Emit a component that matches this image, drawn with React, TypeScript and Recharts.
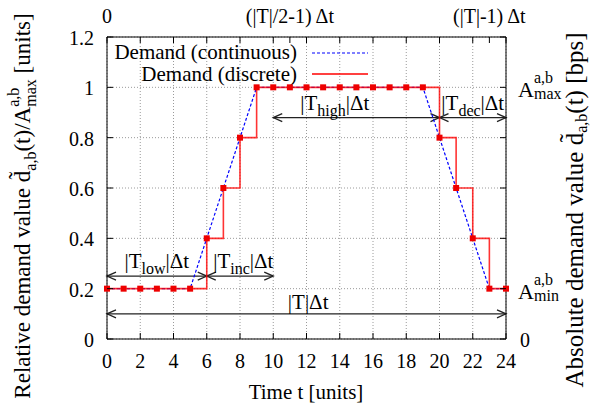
import React from "react";
import {
  CartesianGrid,
  ComposedChart,
  Customized,
  Line,
  ReferenceLine,
  XAxis,
  YAxis,
} from "recharts";

const FONT = "'Liberation Serif', 'Times New Roman', Times, serif";

const timeSlots = [0, 1, 2, 3, 4, 5, 6, 7, 8, 9, 10, 11, 12, 13, 14, 15, 16, 17, 18, 19, 20, 21, 22, 23, 24];
const continuousDemand = [0.2, 0.2, 0.2, 0.2, 0.2, 0.2, 0.4, 0.6, 0.8, 1, 1, 1, 1, 1, 1, 1, 1, 1, 1, 1, 0.8, 0.6, 0.4, 0.2, 0.2];
const discreteDemand = [0.2, 0.2, 0.2, 0.2, 0.2, 0.2, 0.4, 0.6, 0.8, 1, 1, 1, 1, 1, 1, 1, 1, 1, 1, 1, 0.8, 0.6, 0.4, 0.2, 0.2];

const timeTicks = [0, 2, 4, 6, 8, 10, 12, 14, 16, 18, 20, 22, 24];
const relativeTicks = [0, 0.2, 0.4, 0.6, 0.8, 1, 1.2];
const phaseTicks = [0, 2, 4, 6, 8, 10, 11, 12, 14, 16, 18, 20, 22, 23, 24];
const phaseLabels: Record<number, string> = {
  0: "0",
  11: "(|T|/2-1)\u2009\u0394t",
  23: "(|T|-1)\u2009\u0394t",
};
// right axis: 0, A_min, A_max
const absoluteLabels: Record<string, string> = { "0": "0", "0.2": "min", "1": "max" };

// the |T_x|Δt spans drawn as double arrows
const spans = [
  { name: "low", from: 0, to: 6, level: 0.25, labelAt: 3 },
  { name: "inc", from: 6, to: 10, level: 0.25, labelAt: 8.2 },
  { name: "", from: 0, to: 24, level: 0.1, labelAt: 12.1 },
  { name: "high", from: 10, to: 20, level: 0.88, labelAt: 13.7 },
  { name: "dec", from: 20, to: 24, level: 0.88, labelAt: 22 },
];

const data = timeSlots.map((t, i) => ({
  t,
  continuous: continuousDemand[i],
  discrete: discreteDemand[i],
}));

const BottomTick = (p: any) => (
  <g>
    <line x1={p.x} x2={p.x} y1={p.y} y2={p.y - 6} stroke="#000" />
    <text x={p.x} y={p.y + 29} textAnchor="middle" fontFamily={FONT} fontSize={20} fill="#000">
      {p.payload.value}
    </text>
  </g>
);

const TopTick = (p: any) => {
  const label = phaseLabels[p.payload.value];
  return (
    <g>
      <line x1={p.x} x2={p.x} y1={p.y} y2={p.y + 6} stroke="#000" />
      {label && (
        <text x={p.x} y={p.y - 14} textAnchor="middle" fontFamily={FONT} fontSize={20} fill="#000">
          {label}
        </text>
      )}
    </g>
  );
};

const LeftTick = (p: any) => (
  <g>
    <line x1={p.x} x2={p.x + 6} y1={p.y} y2={p.y} stroke="#000" />
    <text x={p.x - 13} y={p.y + 8} textAnchor="end" fontFamily={FONT} fontSize={20} fill="#000">
      {p.payload.value}
    </text>
  </g>
);

const RightTick = (p: any) => {
  const label = absoluteLabels[String(p.payload.value)];
  return (
    <g>
      <line x1={p.x} x2={p.x - 6} y1={p.y} y2={p.y} stroke="#000" />
      {label === "0" && (
        <text x={p.x + 14} y={p.y + 8} fontFamily={FONT} fontSize={20} fill="#000">0</text>
      )}
      {label && label !== "0" && (
        <g fontFamily={FONT} fill="#000">
          <text x={p.x + 12} y={p.y + 10} fontSize={22}>A</text>
          <text x={p.x + 28} y={p.y - 4} fontSize={16}>a,b</text>
          <text x={p.x + 28} y={p.y + 12} fontSize={16}>{label}</text>
        </g>
      )}
    </g>
  );
};

const SquareDot = (p: any) => (
  <rect key={`sq-${p.index}`} x={p.cx - 3} y={p.cy - 3} width={6} height={6} fill="#ee0000" />
);

const spanShape = (s: (typeof spans)[number]) => (p: any) => {
  const { x1, y1, x2, y2 } = p;
  const lx = x1 + ((s.labelAt - s.from) / (s.to - s.from)) * (x2 - x1);
  const h = 9;
  const w = 4;
  return (
    <g stroke="#222" strokeWidth={1.3} fill="none">
      <line x1={x1} y1={y1} x2={x2} y2={y2} />
      <polyline points={`${x1 + h},${y1 - w} ${x1},${y1} ${x1 + h},${y1 + w}`} />
      <polyline points={`${x2 - h},${y2 - w} ${x2},${y2} ${x2 - h},${y2 + w}`} />
      <text
        x={lx}
        y={y1 - (s.name ? 8 : 5)}
        textAnchor="middle"
        fontFamily={FONT}
        fontSize={21}
        fill="#000"
        stroke="none"
      >
        |T
        {s.name && (
          <tspan fontSize={16} dy={6}>
            {s.name}
          </tspan>
        )}
        <tspan dy={s.name ? -6 : 0}>|{"\u0394"}t</tspan>
      </text>
    </g>
  );
};

const Titles = () => (
  <g fontFamily={FONT} fill="#000">
    {/* legend */}
    <text x={297} y={59} textAnchor="end" fontSize={21}>Demand (continuous)</text>
    <line x1={312} x2={368} y1={53} y2={53} stroke="#0000ff" strokeWidth={1.2} strokeDasharray="3 2" />
    <text x={297} y={81} textAnchor="end" fontSize={21}>Demand (discrete)</text>
    <line x1={312} x2={368} y1={74} y2={74} stroke="#ff0000" strokeWidth={1.5} />

    {/* x title */}
    <text x={306} y={399} textAnchor="middle" fontSize={21}>Time t [units]</text>

    {/* left title */}
    <text x={30} y={206} transform="rotate(-90 30 206)" textAnchor="middle" fontSize={23}>
      Relative demand value d{"\u0303"}
      <tspan fontSize={16} dy={6}>a,b</tspan>
      <tspan dy={-6}>(t)/A</tspan>
      <tspan fontSize={16} dy={-11}>a,b</tspan>
      <tspan fontSize={16} dx={-19} dy={17}>max</tspan>
      <tspan dy={-6}> [units]</tspan>
    </text>

    {/* right title */}
    <text x={583} y={210} transform="rotate(-90 583 210)" textAnchor="middle" fontSize={25}>
      Absolute demand value d{"\u0303"}
      <tspan fontSize={16} dy={4}>a,b</tspan>
      <tspan dy={-4}>(t) [bps]</tspan>
    </text>
  </g>
);

export default function App() {
  return (
    <div style={{ position: "absolute", left: 0, top: 0, background: "#fff" }}>
      <ComposedChart width={592} height={410} data={data} margin={{ top: 0, right: 0, bottom: 0, left: 0 }}>
        <CartesianGrid stroke="#9a9a9a" strokeDasharray="1 2" />
        <XAxis
          dataKey="t"
          type="number"
          domain={[0, 24]}
          ticks={timeTicks}
          interval={0}
          height={71}
          tickSize={0}
          tickMargin={0}
          tickLine={false}
          axisLine={{ stroke: "#000" }}
          tick={<BottomTick />}
        />
        <XAxis
          xAxisId="top"
          orientation="top"
          dataKey="t"
          type="number"
          domain={[0, 24]}
          ticks={phaseTicks}
          interval={0}
          height={37}
          tickSize={0}
          tickMargin={0}
          tickLine={false}
          axisLine={{ stroke: "#000" }}
          tick={<TopTick />}
        />
        <YAxis
          type="number"
          domain={[0, 1.2]}
          ticks={relativeTicks}
          interval={0}
          width={107}
          tickSize={0}
          tickMargin={0}
          tickLine={false}
          axisLine={{ stroke: "#000" }}
          tick={<LeftTick />}
        />
        <YAxis
          yAxisId="right"
          orientation="right"
          dataKey="continuous"
          type="number"
          domain={[0, 1.2]}
          ticks={relativeTicks}
          interval={0}
          width={86}
          tickSize={0}
          tickMargin={0}
          tickLine={false}
          axisLine={{ stroke: "#000" }}
          tick={<RightTick />}
        />
        {spans.map((s) => (
          <ReferenceLine
            key={`${s.name}-${s.from}`}
            segment={[
              { x: s.from, y: s.level },
              { x: s.to, y: s.level },
            ]}
            ifOverflow="visible"
            shape={spanShape(s)}
          />
        ))}
        <Line
          dataKey="continuous"
          type="linear"
          stroke="#0000ff"
          strokeWidth={1.2}
          strokeDasharray="3 2"
          dot={false}
          activeDot={false}
          isAnimationActive={false}
        />
        <Line
          dataKey="discrete"
          type="stepAfter"
          stroke="#ff0000"
          strokeOpacity={0.8}
          strokeWidth={1.6}
          dot={SquareDot}
          activeDot={false}
          isAnimationActive={false}
        />
        <Customized component={Titles} />
      </ComposedChart>
    </div>
  );
}
